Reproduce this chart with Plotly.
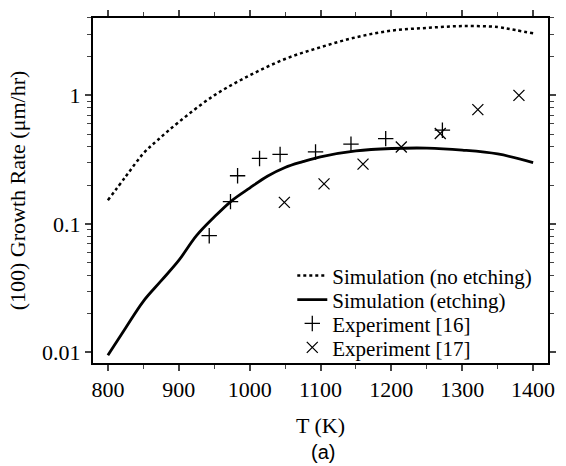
import plotly.graph_objects as go

# ---- data ----
T_noetch = [800, 825, 850, 870, 900, 950, 1000, 1050, 1100, 1150, 1200, 1250, 1300, 1350, 1375, 1400]
G_noetch = [0.153, 0.233, 0.353, 0.448, 0.62, 1.0, 1.43, 1.92, 2.37, 2.83, 3.19, 3.35, 3.46, 3.40, 3.22, 3.04]

T_etch = [800, 825, 850, 875, 900, 925, 950, 975, 1000, 1025, 1050, 1075, 1100, 1150, 1200, 1250, 1300, 1350, 1400]
G_etch = [0.0095, 0.0155, 0.025, 0.036, 0.052, 0.081, 0.113, 0.152, 0.19, 0.235, 0.275, 0.305, 0.333, 0.37, 0.386, 0.389, 0.375, 0.35, 0.30]

T_exp16 = [943, 973, 983, 1014, 1043, 1093, 1143, 1192, 1272]
G_exp16 = [0.081, 0.149, 0.237, 0.323, 0.347, 0.363, 0.417, 0.461, 0.536]

T_exp17 = [1049, 1105, 1160, 1214, 1269, 1322, 1380]
G_exp17 = [0.147, 0.205, 0.292, 0.397, 0.505, 0.775, 1.0]

x_ticks = [800, 900, 1000, 1100, 1200, 1300, 1400]
y_ticks = [0.01, 0.1, 1]
y_tick_labels = ["0.01", "0.1", "1"]
y_minor = [0.02, 0.03, 0.04, 0.05, 0.06, 0.07, 0.08, 0.09,
           0.2, 0.3, 0.4, 0.5, 0.6, 0.7, 0.8, 0.9, 2, 3, 4]

SERIF = "'Liberation Serif', 'Times New Roman', serif"
FS = 22
LFS = 21

fig = go.Figure()
fig.add_trace(go.Scatter(x=T_noetch, y=G_noetch, mode="lines", name="Simulation (no etching)",
                         line=dict(color="black", width=2.5, dash="3px,3px"), line_shape="spline",
                         legend="legend"))
fig.add_trace(go.Scatter(x=T_etch, y=G_etch, mode="lines", name="Simulation (etching)",
                         line=dict(color="black", width=2.8), line_shape="spline",
                         legend="legend2"))
fig.add_trace(go.Scatter(x=T_exp16, y=G_exp16, mode="markers", name="Experiment [16]",
                         marker=dict(symbol="cross-thin", size=11, color="black",
                                     line=dict(color="black", width=1.3)),
                         legend="legend3"))
fig.add_trace(go.Scatter(x=T_exp17, y=G_exp17, mode="markers", name="Experiment [17]",
                         marker=dict(symbol="x-thin", size=11, color="black",
                                     line=dict(color="black", width=1.3)),
                         legend="legend4"))

fig.add_annotation(text="(a)", xref="paper", yref="paper", x=0.5045, y=-0.259,
                   xanchor="center", yanchor="middle", showarrow=False,
                   font=dict(family="'Liberation Sans', Arial, sans-serif", size=20, color="black"))

leg_common = dict(x=0.438, xanchor="left", yanchor="middle", bgcolor="rgba(0,0,0,0)",
                  font=dict(family=SERIF, size=LFS, color="black"), borderwidth=0)
row_y = [276, 300, 324, 348]  # row centres of the legend
def ly(v):
    return (363.3 - v) / 346.0

fig.update_layout(
    width=566, height=466,
    margin=dict(l=93, r=10, t=17, b=103),
    paper_bgcolor="white", plot_bgcolor="white",
    font=dict(family=SERIF, size=FS, color="black"),
    showlegend=True,
    legend=dict(y=ly(row_y[0]), **leg_common),
    legend2=dict(y=ly(row_y[1]), **leg_common),
    legend3=dict(y=ly(row_y[2]), **leg_common),
    legend4=dict(y=ly(row_y[3]), **leg_common),
    xaxis=dict(range=[779, 1421], tickvals=x_ticks, ticks="outside", ticklen=6, tickwidth=1.5,
               showline=True, linecolor="black", linewidth=2, mirror="ticks", showgrid=False,
               zeroline=False,
               minor=dict(dtick=50, ticks="outside", ticklen=4, tickwidth=1.2, showgrid=False),
               title=dict(text="T (K)", standoff=16, font=dict(size=FS))),
    yaxis=dict(type="log", range=[-2.082, 0.602], tickvals=y_ticks, ticktext=y_tick_labels,
               ticks="outside", ticklen=6, tickwidth=1.5,
               showline=True, linecolor="black", linewidth=2, mirror="ticks", showgrid=False,
               zeroline=False,
               minor=dict(tickvals=y_minor, ticks="outside", ticklen=4, tickwidth=1.2, showgrid=False),
               title=dict(text="(100) Growth Rate (μm/hr)", standoff=10, font=dict(size=FS))),
)

fig.write_html("out.html", config={"displayModeBar": False},
               post_script="document.body.style.margin='0';document.body.style.padding='0';")
